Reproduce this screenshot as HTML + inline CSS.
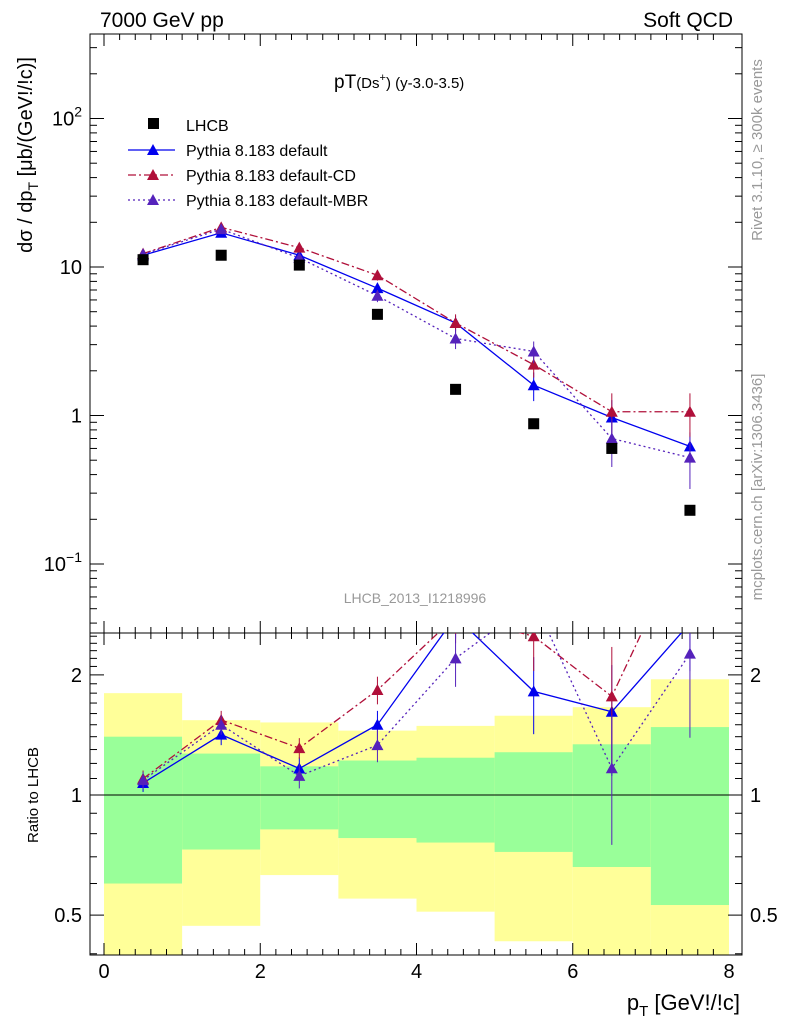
<!DOCTYPE html>
<html><head><meta charset="utf-8"><style>
body{margin:0;background:#fff;}
svg{font-family:"Liberation Sans",sans-serif;}
</style></head><body>
<svg id="c" width="786" height="1024" xmlns="http://www.w3.org/2000/svg"></svg>
<script>
const xCenters=[0.5,1.5,2.5,3.5,4.5,5.5,6.5,7.5];
const lhcb=[11.2,12,10.3,4.8,1.5,0.88,0.6,0.23];
const pyDef=[12,17,12,7.2,4.2,1.6,0.97,0.62];
const pyDefErr=[0.6,1.0,0.8,0.6,0.5,0.35,0.3,0.15];
const pyCD=[12.3,18.5,13.5,8.8,4.2,2.2,1.06,1.06];
const pyCDErr=[0.6,1.0,0.8,0.7,0.6,0.4,0.35,0.35];
const pyMBR=[12.2,18,11.5,6.4,3.3,2.7,0.7,0.52];
const pyMBRErr=[0.6,1.0,0.8,0.6,0.5,0.45,0.25,0.2];
const bandYelHi=[1.80,1.54,1.52,1.45,1.49,1.58,1.66,1.95];
const bandYelLo=[0.39,0.47,0.63,0.55,0.51,0.43,0.39,0.39];
const bandGrnHi=[1.40,1.27,1.18,1.22,1.24,1.28,1.34,1.48];
const bandGrnLo=[0.60,0.73,0.82,0.78,0.76,0.72,0.66,0.53];
const xTicks=[0,2,4,6,8];

const svg=document.getElementById('c');const NS='http://www.w3.org/2000/svg';
function el(t,a,p){const e=document.createElementNS(NS,t);for(const k in a)e.setAttribute(k,a[k]);(p||svg).appendChild(e);return e;}
const X=v=>104+v*78.125;
const Y=v=>267-Math.log10(v/10)*148.5;
const R=v=>795-Math.log10(v)*399;
const L=90,Rt=742,T=34,MB=633,B=955;
const defs=el('defs',{});
const c1=el('clipPath',{id:'cm'},defs);el('rect',{x:L,y:T,width:Rt-L,height:MB-T},c1);
const c2=el('clipPath',{id:'cr'},defs);el('rect',{x:L,y:MB,width:Rt-L,height:B-MB},c2);
const gb=el('g',{'clip-path':'url(#cr)'});

for(let i=0;i<8;i++){
 const r=el('rect',{x:X(i),y:R(bandYelHi[i]),width:X(1)-X(0),height:R(bandYelLo[i])-R(bandYelHi[i]),fill:'#ffff99'},gb);
 
 const g=el('rect',{x:X(i),y:R(bandGrnHi[i]),width:X(1)-X(0),height:R(bandGrnLo[i])-R(bandGrnHi[i]),fill:'#99ff99'},gb);
 
}
el('line',{x1:L,x2:Rt,y1:R(1),y2:R(1),stroke:'#000','stroke-width':1});
el('rect',{x:L,y:T,width:Rt-L,height:MB-T,fill:'none',stroke:'#000'});
el('rect',{x:L,y:MB,width:Rt-L,height:B-MB,fill:'none',stroke:'#000'});
for(let v=0;v<=8;v+=0.2){const big=Math.abs(v-Math.round(v/2)*2)<1e-6;const len=big?12:6;const x=X(v);
 [[T,1],[MB,-1],[MB,1],[B,-1]].forEach(([y,d])=>el('line',{x1:x,x2:x,y1:y,y2:y+d*len,stroke:'#000'}));}
xTicks.forEach(v=>{const t=el('text',{x:X(v),y:978,'font-size':20,'text-anchor':'middle'});t.textContent=v;});
for(let d=-2;d<=2;d++)for(let m=1;m<10;m++){const v=m*Math.pow(10,d);const y=Y(v);if(y<T||y>MB)continue;const len=m==1?14:7;
 el('line',{x1:L,x2:L+len,y1:y,y2:y,stroke:'#000'});el('line',{x1:Rt,x2:Rt-len,y1:y,y2:y,stroke:'#000'});}
function ytl(y,html){const t=el('text',{x:82,y:y+7,'font-size':20,'text-anchor':'end'});t.innerHTML=html;}
ytl(Y(100),'10<tspan dy="-9" font-size="14">2</tspan>');ytl(Y(10),'10');ytl(Y(1),'1');ytl(Y(0.1),'10<tspan dy="-9" font-size="14">−1</tspan>');
for(const v of [0.4,0.5,0.6,0.7,0.8,0.9,1,1.1,1.2,1.3,1.4,1.5,1.6,1.7,1.8,1.9,2,2.1,2.2,2.3,2.4,2.5]){const y=R(v);const big=[0.5,1,2].includes(v);const len=big?14:7;
 el('line',{x1:L,x2:L+len,y1:y,y2:y,stroke:'#000'});el('line',{x1:Rt,x2:Rt-len,y1:y,y2:y,stroke:'#000'});}
[[0.5,'0.5'],[1,'1'],[2,'2']].forEach(([v,s])=>{const a=el('text',{x:82,y:R(v)+7,'font-size':20,'text-anchor':'end'});a.textContent=s;
 const b=el('text',{x:750,y:R(v)+7,'font-size':20});b.textContent=s;});
const series=[
 {v:pyDef,e:pyDefErr,c:'#0000ee',dash:'',name:'default'},
 {v:pyCD,e:pyCDErr,c:'#b0103a',dash:'8,3,2,3',name:'cd'},
 {v:pyMBR,e:pyMBRErr,c:'#5522bb',dash:'2,3',name:'mbr'}];
function tri(g,x,y,c){el('path',{d:`M${x-6},${y+5}L${x+6},${y+5}L${x},${y-6}Z`,fill:c},g);}
series.forEach(s=>{
 const g=el('g',{'clip-path':'url(#cm)'});
 el('polyline',{points:xCenters.map((x,i)=>X(x)+','+Y(s.v[i])).join(' '),fill:'none',stroke:s.c,'stroke-width':1.3,'stroke-dasharray':s.dash},g);
 xCenters.forEach((x,i)=>{el('line',{x1:X(x),x2:X(x),y1:Y(s.v[i]+s.e[i]),y2:Y(s.v[i]-s.e[i]),stroke:s.c},g);tri(g,X(x),Y(s.v[i]),s.c);});
 const gr=el('g',{'clip-path':'url(#cr)'});
 el('polyline',{points:xCenters.map((x,i)=>X(x)+','+R(s.v[i]/lhcb[i])).join(' '),fill:'none',stroke:s.c,'stroke-width':1.3,'stroke-dasharray':s.dash},gr);
 xCenters.forEach((x,i)=>{const r=s.v[i]/lhcb[i],er=s.e[i]/lhcb[i];el('line',{x1:X(x),x2:X(x),y1:R(r+er),y2:R(Math.max(r-er,0.3)),stroke:s.c},gr);tri(gr,X(x),R(r),s.c);});
});
const gd=el('g',{});
xCenters.forEach((x,i)=>el('rect',{x:X(x)-5.5,y:Y(lhcb[i])-5.5,width:11,height:11,fill:'#000'},gd));
const lg=el('g',{});
el('rect',{x:148,y:118,width:11,height:11,fill:'#000'},lg);
let t=el('text',{x:186,y:131,'font-size':16},lg);t.textContent='LHCB';
const ln=['Pythia 8.183 default','Pythia 8.183 default-CD','Pythia 8.183 default-MBR'];
series.forEach((s,i)=>{const y=150+i*25;el('line',{x1:128,x2:175,y1:y,y2:y,stroke:s.c,'stroke-width':1.3,'stroke-dasharray':s.dash},lg);tri(lg,153,y,s.c);
 const tt=el('text',{x:186,y:y+6,'font-size':16},lg);tt.textContent=ln[i];});
function txt(a,s,name){const e=el('text',a);e.innerHTML=s;return e;}
txt({x:100,y:27,'font-size':21},'7000 GeV pp','header-left');
txt({x:733,y:27,'font-size':21,'text-anchor':'end'},'Soft QCD','header-right');
txt({x:334,y:88,'font-size':19},'pT<tspan font-size="15">(Ds<tspan dy="-7" font-size="11">+</tspan><tspan dy="7">) (y-3.0-3.5)</tspan></tspan>','plot-title');
txt({x:415,y:603,'font-size':14,fill:'#999','text-anchor':'middle'},'LHCB_2013_I1218996','analysis-label');
txt({x:740,y:1010,'font-size':22,'text-anchor':'end'},'p<tspan dy="6" font-size="15">T</tspan><tspan dy="-6"> [GeV!/!c]</tspan>','x-axis-title');
txt({transform:'translate(32,155) rotate(-90)','font-size':20,'text-anchor':'middle'},'dσ / dp<tspan dy="6" font-size="14">T</tspan><tspan dy="-6"> [μb/(GeV!/!c)]</tspan>','y-axis-title');
txt({transform:'translate(38,795) rotate(-90)','font-size':15,'text-anchor':'middle'},'Ratio to LHCB','ratio-axis-title');
txt({transform:'translate(762,150) rotate(-90)','font-size':15,fill:'#999','text-anchor':'middle'},'Rivet 3.1.10, ≥ 300k events','rivet-label');
txt({transform:'translate(762,487) rotate(-90)','font-size':15,fill:'#999','text-anchor':'middle'},'mcplots.cern.ch [arXiv:1306.3436]','mcplots-label');
</script>
</body></html>
